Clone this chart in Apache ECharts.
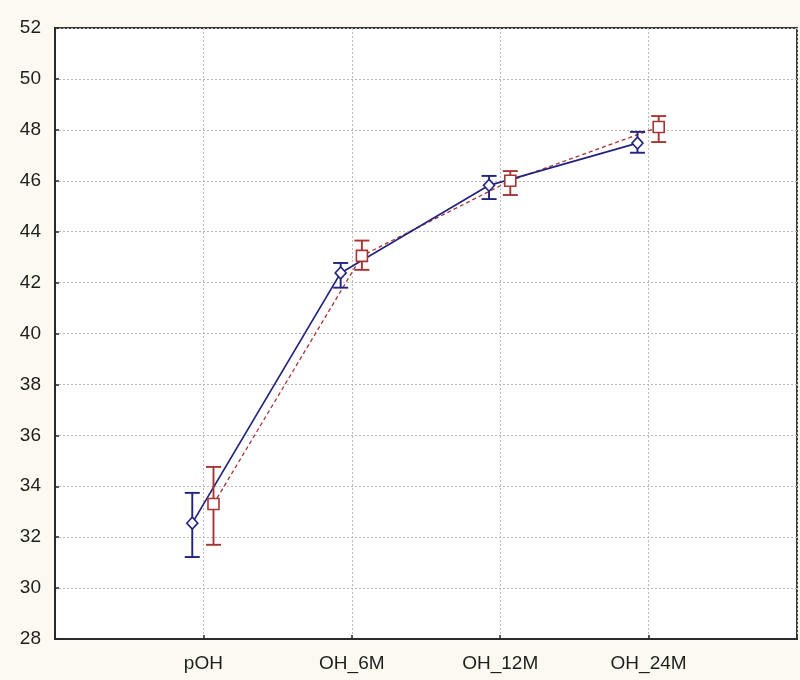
<!DOCTYPE html>
<html>
<head>
<meta charset="utf-8">
<script src="https://cdn.jsdelivr.net/npm/echarts@6/dist/echarts.min.js"></script>
<style>
html,body{margin:0;padding:0;background:#fcfaf0;}
#chart{width:800px;height:680px;}
</style>
</head>
<body>
<div id="chart"></div>
<script>
const categories = ['pOH', 'OH_6M', 'OH_12M', 'OH_24M'];
const blueMean = [32.55, 42.38, 45.82, 47.48];
const blueLow  = [31.22, 41.80, 45.28, 47.10];
const blueHigh = [33.74, 42.77, 46.19, 47.92];
const redMean  = [33.30, 43.05, 46.00, 48.11];
const redLow   = [31.70, 42.50, 45.44, 47.52];
const redHigh  = [34.76, 43.65, 46.38, 48.54];
const yMin = 28, yMax = 52, yStep = 2;

const BLUE = '#23237f';
const RED = '#a83434';
const blueOffset = -0.075;
const redOffset = 0.068;

function pts(vals, off) { return vals.map((v, i) => [i + 1 + off, v]); }
function errData(low, high, off) { return low.map((l, i) => [i + 1 + off, l, high[i]]); }

function errRender(color) {
  return function (params, api) {
    const x = api.value(0);
    const lo = api.coord([x, api.value(1)]);
    const hi = api.coord([x, api.value(2)]);
    const w = 7.5;
    const style = { stroke: color, lineWidth: 1.9, fill: null };
    return {
      type: 'group',
      children: [
        { type: 'line', shape: { x1: lo[0], y1: lo[1], x2: hi[0], y2: hi[1] }, style },
        { type: 'line', shape: { x1: lo[0] - w, y1: lo[1], x2: lo[0] + w, y2: lo[1] }, style },
        { type: 'line', shape: { x1: hi[0] - w, y1: hi[1], x2: hi[0] + w, y2: hi[1] }, style }
      ]
    };
  };
}

const chart = echarts.init(document.getElementById('chart'));
chart.setOption({
  backgroundColor: '#fcfaf0',
  animation: false,
  grid: {
    left: 55, right: 2, top: 28, bottom: 41,
    show: true, backgroundColor: '#ffffff', borderColor: '#3a3a3a', borderWidth: 2
  },
  xAxis: {
    type: 'value', min: 0, max: categories.length + 1, interval: 1,
    axisLine: { show: true, lineStyle: { color: '#2a2a2a', width: 2 } },
    axisTick: { show: true, inside: true, length: 4, lineStyle: { color: '#2a2a2a', width: 1.5 } },
    axisLabel: {
      margin: 15, fontSize: 19, color: '#1e1e1e', fontFamily: 'Liberation Sans, Arial, sans-serif',
      formatter: v => categories[v - 1] || ''
    },
    splitLine: { show: true, lineStyle: { color: '#b8b8b8', type: [2, 2], width: 1 } }
  },
  yAxis: {
    type: 'value', min: yMin, max: yMax, interval: yStep,
    axisLine: { show: true, lineStyle: { color: '#2a2a2a', width: 2 } },
    axisTick: { show: true, inside: true, length: 4, lineStyle: { color: '#2a2a2a', width: 1.5 } },
    axisLabel: { margin: 14, fontSize: 19, color: '#1e1e1e', fontFamily: 'Liberation Sans, Arial, sans-serif' },
    splitLine: { show: true, lineStyle: { color: '#b8b8b8', type: [2, 2], width: 1 } }
  },
  series: [
    {
      type: 'line', data: pts(redMean, redOffset), symbol: 'none',
      lineStyle: { color: RED, width: 1.3, type: [4, 3] }, z: 2
    },
    {
      type: 'line', data: pts(blueMean, blueOffset), symbol: 'none',
      lineStyle: { color: BLUE, width: 1.7 }, z: 3
    },
    { type: 'custom', data: errData(blueLow, blueHigh, blueOffset), renderItem: errRender(BLUE), z: 4 },
    { type: 'custom', data: errData(redLow, redHigh, redOffset), renderItem: errRender(RED), z: 4 },
    {
      type: 'scatter', data: pts(blueMean, blueOffset), symbol: 'diamond', symbolSize: [11, 12],
      itemStyle: { color: '#ffffff', borderColor: BLUE, borderWidth: 1.6, opacity: 1 }, z: 5
    },
    {
      type: 'scatter', data: pts(redMean, redOffset), symbol: 'rect', symbolSize: [11, 11],
      itemStyle: { color: '#ffffff', borderColor: RED, borderWidth: 1.6, opacity: 1 }, z: 5
    }
  ]
});
</script>
</body>
</html>
